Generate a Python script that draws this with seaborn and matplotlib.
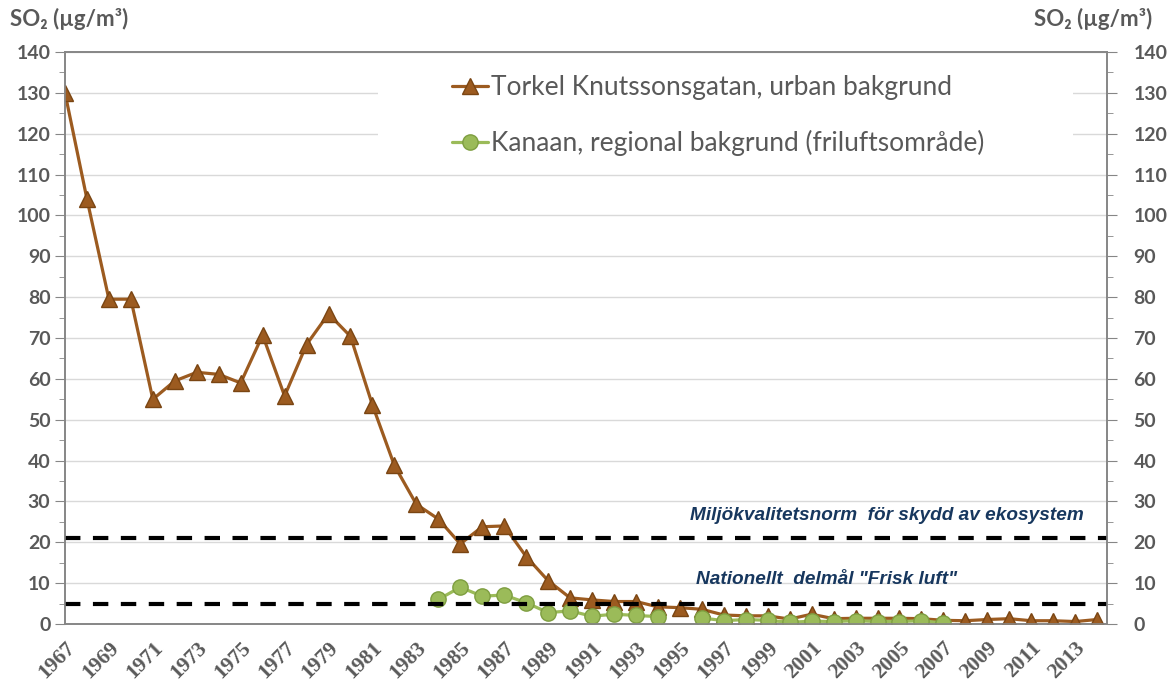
import numpy as np
import pandas as pd
import matplotlib
matplotlib.use("Agg")
import matplotlib.pyplot as plt
import seaborn as sns
from matplotlib.lines import Line2D
from matplotlib.ticker import MultipleLocator

years = list(range(1967, 2015))
torkel = [130, 104, 79.5, 79.5, 55, 59.5, 61.6, 61.1, 59, 70.7,
          55.8, 68.4, 75.9, 70.4, 53.6, 38.8, 29.3, 25.7, 19.6, 23.8,
          24.0, 16.5, 10.6, 6.4, 5.9, 5.5, 5.5, 4.2, 4.0, 3.6,
          2.2, 2.0, 2.0, 1.2, 2.4, 1.3, 1.4, 1.4, 1.4, 1.3,
          0.9, 0.8, 1.1, 1.3, 0.8, 0.8, 0.6, 1.1]
kanaan_years = list(range(1984, 2008))
kanaan = [6.0, 9.0, 6.8, 7.1, 5.2, 2.8, 3.2, 1.9, 2.4, 2.1, 1.8, np.nan,
          1.5, 0.8, 1.1, 0.9, 0.4, 0.7, 0.6, 0.8, 0.6, 0.6, 0.8, 0.25]
norm_ekosystem = 21
delmal = 5

name_t = "Torkel Knutssonsgatan, urban bakgrund"
name_k = "Kanaan, regional bakgrund (friluftsområde)"

df_t = pd.DataFrame({"year": years, "so2": torkel})
df_k = pd.DataFrame({"year": kanaan_years, "so2": kanaan})
# split the green series where a year is missing so the line breaks there
df_k["seg"] = df_k["so2"].isna().cumsum()
df_k = df_k.dropna()

sns.set_style("white")
plt.rcParams["font.family"] = ["Lato", "DejaVu Sans"]

grey = "#595959"
brown, brown_edge = "#9C5B20", "#7A4512"
green, green_edge = "#9BBB59", "#7E9E40"

fig = plt.figure(figsize=(11.72, 6.84), dpi=100)
ax = fig.add_axes([65 / 1172, 1 - 624 / 684, (1107 - 65) / 1172, (624 - 52) / 684])

sns.lineplot(data=df_t, x="year", y="so2", ax=ax, color=brown, lw=2.3,
             marker="^", markersize=11.5, markerfacecolor=brown,
             markeredgecolor=brown_edge, markeredgewidth=1, zorder=3)
sns.lineplot(data=df_k, x="year", y="so2", units="seg", estimator=None, ax=ax,
             color=green, lw=2.3, marker="o", markersize=11,
             markerfacecolor=green, markeredgecolor=green_edge,
             markeredgewidth=1, zorder=4)

for lvl in (norm_ekosystem, delmal):
    ax.axhline(lvl, color="black", lw=3, dashes=(3.7, 3), zorder=5)

ax.text(1995.45, 26.6, "Miljökvalitetsnorm  för skydd av ekosystem",
        family="Liberation Sans", fontsize=13.7, fontweight="bold",
        fontstyle="italic", color="#17375E", va="center", ha="left")
ax.text(1995.75, 10.8, 'Nationellt  delmål "Frisk luft"',
        family="Liberation Sans", fontsize=13.7, fontweight="bold",
        fontstyle="italic", color="#17375E", va="center", ha="left")

ax.set_xlim(1967, 2014.45)
ax.set_ylim(0, 140)
ax.yaxis.set_major_locator(MultipleLocator(10))
ax.yaxis.set_minor_locator(MultipleLocator(5))
ax.set_xticks(list(range(1967, 2014, 2)))
ax.set_xticklabels([str(y) for y in range(1967, 2014, 2)], rotation=45,
                   ha="right", va="top", rotation_mode="anchor",
                   family="Liberation Serif", fontweight="bold",
                   fontsize=15.5, color=grey)
ax.set_xlabel("")
ax.set_ylabel("")
ax.grid(axis="y", color="#D9D9D9", lw=1)
ax.set_axisbelow(True)
for s in ax.spines.values():
    s.set_color("#868686")
    s.set_linewidth(1.2)
ax.tick_params(axis="x", direction="out", length=6, color="#868686", pad=4)
ax.tick_params(axis="y", which="major", direction="out", length=7,
               color="#868686", labelsize=14, labelcolor=grey)
ax.tick_params(axis="y", which="minor", direction="out", length=4,
               color="#868686")
for lab in ax.get_yticklabels():
    lab.set_fontweight("bold")

# white box behind the legend hides the gridlines there
ax.axhspan(113, 139.5, xmin=(378 - 65) / 1042, xmax=(1073 - 65) / 1042,
           color="white", zorder=1, lw=0)

ax2 = ax.twinx()
ax2.set_ylim(0, 140)
ax2.yaxis.set_major_locator(MultipleLocator(10))
ax2.yaxis.set_minor_locator(MultipleLocator(5))
ax2.tick_params(axis="y", which="major", direction="out", length=7,
                color="#868686", labelsize=14, labelcolor=grey, pad=12)
ax2.tick_params(axis="y", which="minor", direction="out", length=4,
                color="#868686")
for lab in ax2.get_yticklabels():
    lab.set_fontweight("bold")
for s in ax2.spines.values():
    s.set_color("#868686")
    s.set_linewidth(1.2)

handles = [
    Line2D([], [], color=brown, lw=2.3, marker="^", markersize=11.5,
           markerfacecolor=brown, markeredgecolor=brown_edge),
    Line2D([], [], color=green, lw=2.3, marker="o", markersize=11,
           markerfacecolor=green, markeredgecolor=green_edge),
]
leg = ax.legend(handles, [name_t, name_k], loc="upper left",
                bbox_to_anchor=(452 / 1172, 1 - 75 / 684),
                bbox_transform=fig.transFigure, frameon=False,
                fontsize=19, labelspacing=1.15, handlelength=1.35,
                handletextpad=0.12, borderpad=0, borderaxespad=0)
for t in leg.get_texts():
    t.set_color(grey)

label = "SO₂ (µg/m³)"
fig.text(10 / 1172, 1 - 19 / 684, label, fontsize=16, fontweight="bold",
         color=grey, ha="left", va="center")
fig.text(1152 / 1172, 1 - 19 / 684, label, fontsize=16, fontweight="bold",
         color=grey, ha="right", va="center")

fig.savefig("out.png", dpi=100)
